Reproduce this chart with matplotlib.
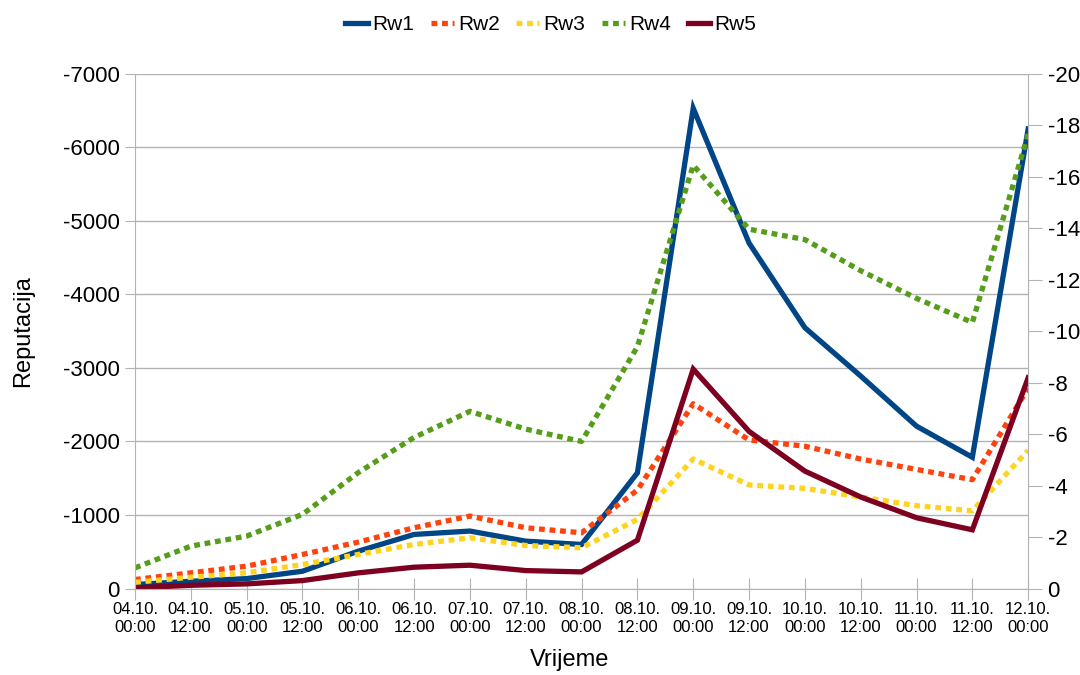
import numpy as np
import matplotlib
matplotlib.use("Agg")
import matplotlib.pyplot as plt

plt.rcParams['font.family'] = ['Liberation Sans', 'DejaVu Sans']
plt.rcParams['axes.unicode_minus'] = False

# time slots, every 12 hours
times = ['04.10.\n00:00', '04.10.\n12:00', '05.10.\n00:00', '05.10.\n12:00',
         '06.10.\n00:00', '06.10.\n12:00', '07.10.\n00:00', '07.10.\n12:00',
         '08.10.\n00:00', '08.10.\n12:00', '09.10.\n00:00', '09.10.\n12:00',
         '10.10.\n00:00', '10.10.\n12:00', '11.10.\n00:00', '11.10.\n12:00',
         '12.10.\n00:00']

rw1 = [-55, -100, -136, -236, -509, -736, -782, -645, -600,
       -1573, -6529, -4697, -3546, -2889, -2208, -1785, -6247]
rw2 = [-123, -214, -305, -464, -632, -827, -986, -827, -759,
       -1339, -2513, -2020, -1935, -1761, -1620, -1480, -2724]
rw3 = [-86, -155, -214, -327, -464, -600, -691, -586, -555,
       -940, -1761, -1409, -1362, -1245, -1127, -1057, -1879]
rw4 = [-282, -577, -714, -1009, -1577, -2055, -2409, -2168, -2000,
       -3288, -5754, -4885, -4744, -4321, -3945, -3617, -6177]
rw5 = [-9, -45, -64, -109, -214, -291, -318, -245, -227,
       -658, -2983, -2137, -1597, -1245, -963, -799, -2865]

left_ticks = list(range(0, -7001, -1000))
right_ticks = list(range(0, -21, -2))

fig = plt.figure(figsize=(10.8, 6.75), dpi=100)
ax = fig.add_axes([0.125, 0.128, 0.827, 0.763])

x = np.arange(len(times))
dots = (0, (1.1, 0.9))
ax.plot(x, rw1, color='#004586', lw=3.8, solid_joinstyle='miter', label='Rw1')
ax.plot(x, rw2, color='#ff420e', lw=3.8, ls=dots, dash_capstyle='butt', label='Rw2')
ax.plot(x, rw3, color='#ffd320', lw=3.8, ls=dots, dash_capstyle='butt', label='Rw3')
ax.plot(x, rw4, color='#579d1c', lw=3.8, ls=dots, dash_capstyle='butt', label='Rw4')
ax.plot(x, rw5, color='#7e0021', lw=3.8, solid_joinstyle='miter', label='Rw5')

ax.set_xlim(0, len(times) - 1)
ax.set_ylim(0, -7000)
ax.set_yticks(left_ticks)
ax.set_yticklabels([str(v) for v in left_ticks])
ax.set_xticks(x)
ax.set_xticklabels(times, fontsize=12, linespacing=1.25)
ax.tick_params(axis='x', direction='inout', length=16, color='#b3b3b3', pad=2)
ax.tick_params(axis='y', direction='out', length=7, color='#b3b3b3', labelsize=16, pad=4)
ax.grid(axis='y', color='#b3b3b3', lw=1)
ax.set_axisbelow(True)
for s in ['left', 'right', 'bottom']:
    ax.spines[s].set_color('#b3b3b3')
ax.spines['top'].set_visible(False)

ax2 = ax.twinx()
ax2.set_ylim(0, -20)
ax2.set_yticks(right_ticks)
ax2.set_yticklabels([str(v) for v in right_ticks])
ax2.tick_params(axis='y', direction='out', length=10, color='#b3b3b3', labelsize=16, pad=4)
for s in ax2.spines.values():
    s.set_visible(False)

# axis titles placed in figure coordinates
fig.text(0.021, 0.51, 'Reputacija', rotation=90, fontsize=17, ha='center', va='center')
fig.text(0.527, 0.022, 'Vrijeme', fontsize=17, ha='center', va='center')

fig.legend(loc='upper center', bbox_to_anchor=(0.51, 1.005), ncol=5, frameon=False,
           fontsize=15, handlelength=1.1, handletextpad=0.2, columnspacing=0.8)

fig.savefig('out.png', dpi=100)
